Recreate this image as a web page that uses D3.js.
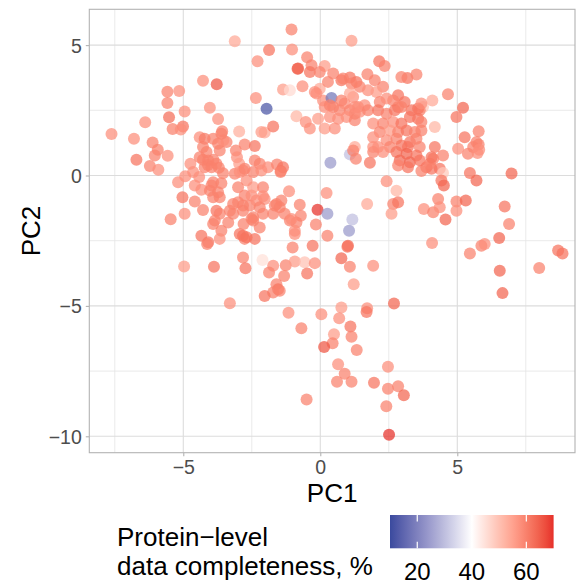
<!DOCTYPE html>
<html><head><meta charset="utf-8">
<script src="https://cdn.jsdelivr.net/npm/d3@7"></script>
<style>
html,body{margin:0;padding:0;background:#fff;}
svg{display:block;font-family:"Liberation Sans",Arial,sans-serif;}
</style></head>
<body>
<svg id="chart" width="576" height="588"></svg>
<script>
// PCA scores (PC1, PC2) and protein-level data completeness (%)
const pc1 = [-7.62,-6.80,-6.39,-6.71,-6.12,-5.93,-6.04,-5.57,-6.22,-5.91,-5.58,-5.15,-5.58,-5.52,-4.95,-5.39,-5.01,-5.09,-4.28,-3.78,
-4.03,-3.73,-3.58,-3.12,-2.96,-2.35,-2.29,-1.87,-1.96,-2.03,-1.72,-1.05,-1.03,-0.83,-1.36,-1.11,-0.87,-4.40,-4.22,-3.91,
-3.73,-3.42,-4.28,-3.67,-3.08,-2.76,-2.39,-4.74,-4.28,-4.10,-3.90,-3.70,-3.12,-2.94,-3.04,-2.96,-2.45,-2.21,-1.91,-1.58,
-1.44,-5.19,-4.93,-5.03,-4.58,-4.42,-4.34,-3.91,-3.61,-4.03,-3.73,-3.91,-3.67,-4.28,-4.95,-5.46,-3.79,-3.67,-3.85,-3.18,
-3.00,-2.76,-2.51,-2.45,-2.09,-2.69,-2.09,-2.03,-1.60,-1.42,-1.14,-3.18,-2.82,-2.45,-2.09,-3.91,-3.61,-3.67,-2.94,-2.76,
-2.45,-2.21,-2.39,-1.72,-1.48,-1.30,-1.11,-0.87,-4.34,-4.09,-1.01,-4.13,-2.82,-2.69,-4.97,-3.88,-2.82,-2.73,-2.11,-1.72,
-1.87,-1.26,-0.93,-1.32,-1.60,-1.54,-1.72,-2.03,-3.30,-1.16,-0.69,-0.93,-0.28,0.26,1.01,0.77,1.08,-0.57,-0.20,-0.48,
-1.48,1.93,1.22,0.04,0.77,0.69,1.71,1.69,2.69,1.10,1.14,0.50,0.45,0.14,1.33,0.65,0.89,0.61,1.14,1.96,
2.47,2.47,2.84,3.05,2.41,2.51,-0.50,4.08,5.46,5.88,6.00,6.53,6.55,6.65,7.99,8.68,8.84,1.14,-0.48,-0.32,
-0.81,-0.38,0.16,0.47,0.77,1.08,1.32,-0.65,-0.02,0.28,-0.14,0.10,0.41,0.47,0.71,0.35,0.65,-0.08,-0.38,0.16,
0.53,-0.53,2.15,2.35,1.72,1.99,2.29,1.44,1.74,2.05,1.20,1.38,1.62,0.89,1.08,1.26,3.18,3.51,2.84,3.08,
2.66,2.17,2.42,4.66,4.09,3.75,5.21,4.97,4.18,5.78,5.27,5.58,5.78,5.39,5.74,5.03,4.18,4.48,4.12,3.87,
4.06,4.36,4.48,4.42,4.51,5.46,5.70,6.98,3.69,2.42,2.78,2.66,2.84,2.60,1.71,3.78,4.12,4.30,4.36,4.57,
4.97,4.97,5.31,6.73,6.89,-0.10,0.26,1.17,1.05,0.23,-0.16,0.99,0.37,1.08,1.26,1.30,1.81,-1.36,-1.45,-0.75,
-0.71,-0.93,5.70,5.80,0.83,1.14,1.08,2.84,3.33,3.63,1.26,0.96,1.26,1.44,1.74,2.11,2.42,2.72,2.96,3.27,
3.57,3.69,1.93,2.29,2.66,2.96,2.17,2.54,2.84,3.15,3.45,3.69,1.93,2.42,2.78,3.27,3.51,2.11,2.54,2.96,
3.20,3.63,1.93,2.29,2.78,3.15,3.51,2.90,3.27,3.63,2.84,3.20,4.00,4.06,1.20,1.93,-0.02,-0.20,0.16,0.35,
0.77,2.96,3.57,3.69,-3.54,-2.15,-4.40,-4.09,-4.22,-3.97,-3.79,-4.58,-3.97,-2.82,-3.00,-2.15,-2.39,-3.30,-3.36,-2.82,
-2.57,-2.51,-2.80,-3.61,-4.15,-4.64,-2.76,-3.55,-2.33,-2.21,-1.66,-1.05];

const pc2 = [1.59,1.41,2.04,0.60,1.27,0.99,0.77,0.76,0.36,0.22,3.21,3.24,2.78,2.23,2.45,1.78,1.88,1.76,3.63,3.50,
2.60,2.17,1.70,5.15,1.69,2.97,4.38,4.81,2.56,1.65,1.88,5.60,4.83,4.09,3.30,3.27,2.27,1.47,1.41,1.41,
1.22,1.28,1.09,0.96,0.96,1.19,1.13,0.45,0.60,0.40,0.60,0.30,0.07,0.13,0.70,0.45,0.13,0.45,0.32,0.42,
0.17,-0.26,-0.03,-0.83,-1.00,-0.06,-0.55,-0.26,-0.30,-0.58,-0.64,-0.83,-0.83,-1.32,-1.47,-1.68,-1.35,-1.47,-1.73,-1.09,
-1.03,-0.77,-0.77,-0.45,-0.45,-0.19,-0.80,-0.90,-1.09,-0.96,-0.60,-1.47,-1.35,-1.60,-1.47,-1.86,-2.12,-2.43,-2.24,-2.43,
-1.73,-1.99,-2.43,-1.47,-1.22,-1.47,-1.73,-1.80,-2.31,-2.56,-2.76,-2.63,-2.31,-2.37,-3.49,-3.50,-3.14,-3.56,-3.24,-3.46,
-3.72,-3.44,-3.30,-3.85,-4.17,-4.36,-4.49,-4.62,-4.90,-5.26,-5.86,-2.24,-2.69,-2.31,-2.69,-3.17,-3.50,-3.33,-3.36,-3.76,
-4.42,-3.46,-4.17,-5.32,-5.06,-5.47,-5.09,-5.23,-4.91,-5.79,-6.18,-6.09,-6.43,-6.58,-6.69,-7.24,-7.60,-7.91,-7.91,-7.95,
-7.33,-8.18,-8.08,-8.43,-8.85,-9.94,-8.59,-2.59,-2.99,-2.69,-2.63,-2.40,-3.65,-4.51,-3.55,-2.88,-2.99,5.17,4.53,4.23,
4.10,3.97,4.20,3.91,3.65,3.76,3.59,3.42,3.33,3.59,3.14,2.88,2.97,2.63,2.50,2.24,2.18,2.18,1.80,1.80,
1.80,2.05,4.38,4.20,3.88,3.65,3.40,3.40,3.27,3.20,3.01,2.63,2.69,2.76,2.50,2.37,3.74,3.87,3.08,2.82,
2.88,2.82,2.95,3.12,2.88,2.63,2.60,2.24,1.86,1.70,1.47,1.09,1.19,0.83,0.86,1.03,1.09,0.77,0.64,0.32,
0.26,0.26,0.10,-0.19,-0.38,0.10,-0.19,0.08,0.17,-0.22,-0.58,-1.09,-1.03,-1.47,-1.09,-1.28,-1.41,-0.90,-1.22,-1.69,
-1.00,-1.35,-0.96,-1.19,-1.86,-1.31,-1.47,-1.69,-2.12,-0.67,-1.88,-2.73,0.49,0.81,1.09,0.64,0.49,0.32,0.13,-1.12,
-1.54,-2.12,1.28,0.99,3.72,3.53,3.14,2.63,2.50,2.50,2.63,2.24,2.12,2.44,2.50,2.50,2.37,2.50,2.63,2.24,
2.18,2.05,1.99,1.99,2.05,1.99,1.67,1.73,1.67,1.73,1.67,1.73,1.47,1.35,1.41,1.28,1.41,1.09,1.09,1.15,
1.09,1.09,0.90,0.90,0.90,0.83,0.77,0.58,0.51,0.58,0.38,0.32,0.45,0.70,0.96,1.09,3.97,3.20,2.63,2.69,
2.88,3.78,2.57,2.76,1.35,1.67,0.70,0.58,0.32,0.32,0.45,-0.38,-0.38,0.19,-0.45,0.19,0.58,-1.35,-1.80,-1.15,
-1.15,-1.67,-1.86,1.60,0.90,0.13,0.26,0.09,-0.96,-1.22,-1.15,-1.67];

const completeness = [58,58,58,62,60,60,60,58,60,58,60,58,60,63,58,60,62,58,58,66,
58,58,60,54,53,58,58,62,12,54,62,60,58,65,56,46,52,58,61,60,
60,60,60,60,60,60,62,58,60,60,60,60,60,58,58,56,60,60,58,60,
60,58,58,62,60,58,58,60,60,60,60,60,60,60,58,60,62,60,60,60,
60,60,58,56,60,58,58,58,60,60,58,60,60,60,60,60,60,58,62,60,
60,60,62,60,60,60,60,60,62,62,60,60,62,62,56,62,60,62,45,58,
60,60,56,60,60,62,60,62,58,58,60,58,62,60,64,64,60,50,58,62,
60,58,56,58,56,58,58,62,64,62,60,56,60,66,60,58,60,60,60,62,
58,60,60,64,60,70,60,58,60,60,58,64,64,64,60,62,62,56,60,60,
64,62,56,60,62,62,62,58,54,60,58,58,18,60,60,58,58,56,58,56,
58,58,62,60,60,60,60,60,58,56,58,60,58,58,60,60,62,60,62,62,
60,60,58,60,54,49,64,62,52,60,62,60,60,60,58,58,62,60,60,62,
62,62,49,62,64,62,64,64,60,58,52,60,62,56,54,58,60,60,58,64,
60,58,64,62,60,70,24,30,24,58,60,62,24,30,54,60,62,62,60,60,
60,58,60,58,60,60,54,60,62,60,58,58,60,58,60,62,60,62,60,62,
62,60,58,60,58,62,60,56,60,62,60,60,58,58,60,62,60,58,60,62,
62,60,60,58,62,64,62,64,64,62,60,62,60,62,60,58,60,58,58,60,
60,60,62,58,58,56,60,60,60,60,60,58,60,58,60,58,60,60,60,60,
60,60,60,60,60,58,60,60,58,60,60,58];

const xTicks = [-5, 0, 5];
const yTicks = [-10, -5, 0, 5];
const xMinor = [-7.5, -2.5, 2.5, 7.5];
const yMinor = [-7.5, -2.5, 2.5];
const legendTicks = [20, 40, 60];
const colorDomain = [10, 40, 70];

const svg = d3.select("#chart");
const panel = {left: 89.3, top: 9.3, right: 575, bottom: 452.7};

const x = d3.scaleLinear().domain([-8.43, 9.296]).range([panel.left, panel.right]);
const y = d3.scaleLinear().domain([6.373, -10.629]).range([panel.top, panel.bottom]);
const color = d3.scaleDiverging()
  .domain(colorDomain)
  .interpolator(d3.piecewise(d3.interpolateLab, ["#3a4a9e", "#ffffff", "#e6302a"]));

const data = pc1.map((v, i) => ({pc1: v, pc2: pc2[i], c: completeness[i]}));

// grid
const g = svg.append("g");
g.selectAll(".xminor").data(xMinor).join("line")
  .attr("x1", d => x(d)).attr("x2", d => x(d)).attr("y1", panel.top).attr("y2", panel.bottom)
  .attr("stroke", "#e4e4e4").attr("stroke-width", 0.8);
g.selectAll(".yminor").data(yMinor).join("line")
  .attr("y1", d => y(d)).attr("y2", d => y(d)).attr("x1", panel.left).attr("x2", panel.right)
  .attr("stroke", "#e4e4e4").attr("stroke-width", 0.8);
g.selectAll(".xmajor").data(xTicks).join("line")
  .attr("x1", d => x(d)).attr("x2", d => x(d)).attr("y1", panel.top).attr("y2", panel.bottom)
  .attr("stroke", "#dcdcdc").attr("stroke-width", 1.1);
g.selectAll(".ymajor").data(yTicks).join("line")
  .attr("y1", d => y(d)).attr("y2", d => y(d)).attr("x1", panel.left).attr("x2", panel.right)
  .attr("stroke", "#dcdcdc").attr("stroke-width", 1.1);

// points
svg.append("g").selectAll("circle").data(data).join("circle")
  .attr("cx", d => x(d.pc1)).attr("cy", d => y(d.pc2)).attr("r", 6)
  .attr("fill", d => color(d.c)).attr("fill-opacity", 0.72);

// border
svg.append("rect").attr("x", panel.left).attr("y", panel.top)
  .attr("width", panel.right - panel.left).attr("height", panel.bottom - panel.top)
  .attr("fill", "none").attr("stroke", "#b3b3b3").attr("stroke-width", 1.1);

// axes
const fmt = d => d < 0 ? "\u2212" + Math.abs(d) : d;
const xAxis = svg.append("g").attr("transform", `translate(0,${panel.bottom})`)
  .call(d3.axisBottom(x).tickValues(xTicks).tickSize(3.5).tickPadding(4).tickFormat(fmt));
const yAxis = svg.append("g").attr("transform", `translate(${panel.left},0)`)
  .call(d3.axisLeft(y).tickValues(yTicks).tickSize(3.5).tickPadding(4).tickFormat(fmt));
[xAxis, yAxis].forEach(a => {
  a.select(".domain").remove();
  a.selectAll(".tick line").attr("stroke", "#b3b3b3").attr("stroke-width", 1.1);
  a.selectAll(".tick text").attr("fill", "#4d4d4d").style("font-size", "19.5px")
    .style("font-family", '"Liberation Sans", Arial, sans-serif');
});
xAxis.selectAll(".tick text").attr("dy", null).attr("y", 21);
yAxis.selectAll(".tick text").attr("dy", "0.36em");

svg.append("text").attr("x", (panel.left + panel.right) / 2).attr("y", 501.5)
  .attr("text-anchor", "middle").style("font-size", "26px").attr("fill", "#000").text("PC1");
svg.append("text").attr("transform", `translate(40,${(panel.top + panel.bottom) / 2}) rotate(-90)`)
  .attr("text-anchor", "middle").style("font-size", "26px").attr("fill", "#000").text("PC2");

// legend
const legX = d3.scaleLinear().domain([10, 70]).range([390, 553.6]);
const defs = svg.append("defs");
const grad = defs.append("linearGradient").attr("id", "lg").attr("x1", "0%").attr("x2", "100%");
d3.range(0, 1.0001, 0.05).forEach(t => {
  grad.append("stop").attr("offset", (t * 100) + "%").attr("stop-color", color(10 + t * 60));
});
const barTop = 515, barH = 33.3;
svg.append("rect").attr("x", legX(10)).attr("y", barTop).attr("width", legX(70) - legX(10)).attr("height", barH)
  .attr("fill", "url(#lg)");
const lt = svg.append("g");
lt.selectAll(".t1").data(legendTicks).join("line")
  .attr("x1", d => legX(d)).attr("x2", d => legX(d)).attr("y1", barTop).attr("y2", barTop + 6.6)
  .attr("stroke", "#fff").attr("stroke-width", 1.2);
lt.selectAll(".t2").data(legendTicks).join("line")
  .attr("x1", d => legX(d)).attr("x2", d => legX(d)).attr("y1", barTop + barH - 6.6).attr("y2", barTop + barH)
  .attr("stroke", "#fff").attr("stroke-width", 1.2);
lt.selectAll("text").data(legendTicks).join("text")
  .attr("x", d => legX(d)).attr("y", 580).attr("text-anchor", "middle")
  .style("font-size", "24px").attr("fill", "#000").text(d => d);

const title = svg.append("text").style("font-size", "26px").attr("fill", "#000");
title.append("tspan").attr("x", 117).attr("y", 546).text("Protein\u2212level");
title.append("tspan").attr("x", 117).attr("y", 575).text("data completeness, %");
</script>
</body></html>
